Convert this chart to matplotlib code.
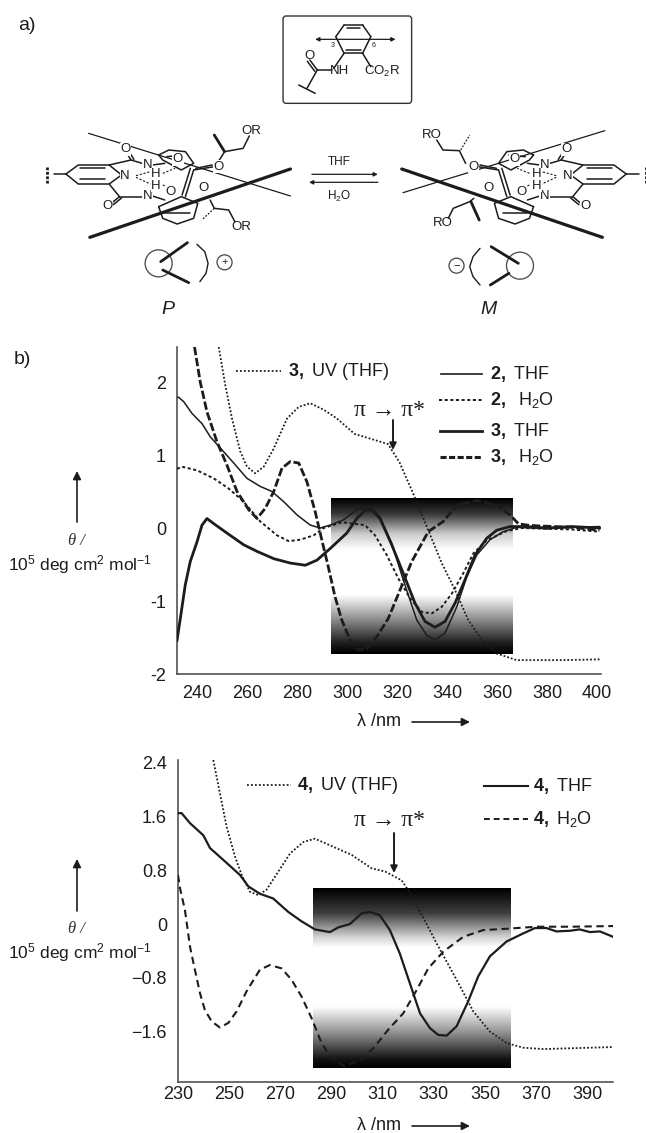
import numpy as np
import matplotlib
matplotlib.use('Agg')
import matplotlib.pyplot as plt
from matplotlib.patches import FancyBboxPatch, Ellipse, FancyArrowPatch

plt.rcParams['font.family'] = ['Liberation Sans', 'DejaVu Sans']
plt.rcParams['mathtext.fontset'] = 'custom'
plt.rcParams['mathtext.rm'] = 'Liberation Sans'
plt.rcParams['mathtext.it'] = 'Liberation Sans:italic'
plt.rcParams['mathtext.bf'] = 'Liberation Sans:bold'

W, H = 646, 1133
INK = '#1c1c1c'

# panel b, upper chart
b_xticks = [240, 260, 280, 300, 320, 340, 360, 380, 400]
b_yticks = [-2, -1, 0, 1, 2]
b_yticklabels = ['-2', '-1', '0', '1', '2']

thf3_x = [232, 233.5, 235.3, 237.3, 240, 242, 244, 246.7, 252, 258.7, 264, 270.7, 277.3, 283.3, 288, 293.3, 299.9,
          303.9, 307.2, 309.9, 313.2, 317.9, 322.5, 327.2, 331.2, 335.2, 339.2, 343.2, 347.2, 351.2, 355.9, 359.9,
          365.2, 372, 380, 390, 401]
thf3_y = [-1.54, -1.2, -0.78, -0.46, -0.19, 0.04, 0.13, 0.06, -0.07, -0.23, -0.32, -0.42, -0.48, -0.51, -0.44, -0.28, -0.07,
          0.13, 0.24, 0.25, 0.13, -0.23, -0.62, -1.03, -1.28, -1.36, -1.28, -1.03, -0.71, -0.37, -0.14, -0.03,
          0.02, 0.02, 0.0, 0.02, 0.0]

thf2_x = [232, 232.7, 234.7, 238, 242, 245.3, 250, 254.7, 260, 265.3, 270, 274.7, 280, 285.3, 289.3, 293.2, 298.5,
          303.9, 309.2, 313.2, 317.9, 322.5, 327.9, 331.9, 335.2, 339.2, 343.9, 347.9, 351.9, 357.2, 362.5, 367.9,
          380, 390, 401]
thf2_y = [1.79, 1.79, 1.73, 1.57, 1.43, 1.25, 1.07, 0.89, 0.68, 0.57, 0.5, 0.36, 0.18, 0.04, 0.0, 0.04, 0.11,
          0.25, 0.29, 0.15, -0.21, -0.71, -1.26, -1.47, -1.53, -1.44, -1.08, -0.67, -0.37, -0.16, -0.05, 0.01,
          -0.01, 0.01, 0.02]

h2o2_x = [232, 234, 240, 246.7, 252.7, 258.7, 265.3, 272, 276.7, 281.3, 286.7, 290.7, 298, 307.2, 311.2, 315.9,
          320.5, 325.2, 329.9, 333.9, 337.9, 341.9, 346.5, 350.5, 355.8, 364, 370, 380, 390, 401]
h2o2_y = [0.81, 0.84, 0.79, 0.68, 0.54, 0.36, 0.09, -0.1, -0.18, -0.16, -0.1, 0.0, 0.08, 0.04, -0.1, -0.37,
          -0.69, -0.96, -1.15, -1.17, -1.08, -0.9, -0.62, -0.35, -0.17, -0.04, 0.0, -0.01, -0.02, -0.05]

h2o3_x = [239, 241.3, 244, 248, 252, 256, 260.7, 264, 267.3, 270.7, 274, 277.3, 280.7, 284, 287.3, 289.9, 292.5,
          295.2, 297.9, 301.2, 304.5, 307.9, 311.9, 316.5, 321.2, 325.9, 332.5, 338.5, 343.9, 351.9, 359.9, 365.2,
          368.5, 372, 376, 390, 401]
h2o3_y = [2.48, 2.0, 1.59, 1.18, 0.86, 0.5, 0.25, 0.13, 0.27, 0.5, 0.82, 0.91, 0.89, 0.63, 0.22, -0.16, -0.53,
          -0.94, -1.26, -1.53, -1.67, -1.65, -1.49, -1.24, -0.85, -0.46, -0.05, 0.09, 0.31, 0.38, 0.31, 0.18,
          0.06, 0.04, 0.03, 0.01, -0.03]

uv3_x = [248.7, 251.3, 254, 257.3, 260, 263.3, 266.7, 270.7, 276, 280.7, 285.3, 290.7, 296, 303, 316.4, 321, 326.5,
         332.5, 337.9, 343.2, 348.5, 353.9, 359.9, 367.9, 385, 401]
uv3_y = [2.48, 1.96, 1.5, 1.05, 0.84, 0.75, 0.84, 1.09, 1.5, 1.66, 1.71, 1.62, 1.5, 1.29, 1.15, 0.9, 0.47,
         -0.03, -0.48, -0.85, -1.26, -1.53, -1.72, -1.81, -1.81, -1.8]

# panel b, lower chart
c_xticks = [230, 250, 270, 290, 310, 330, 350, 370, 390]
c_yticks = [-1.6, -0.8, 0, 0.8, 1.6, 2.4]
c_yticklabels = ['\u22121.6', '\u22120.8', '0', '0.8', '1.6', '2.4']

thf4_x = [230, 231.4, 234.7, 239.9, 242.5, 248.4, 254.2, 257.5, 262, 267.2, 273.1, 278.3, 283.5, 289.4, 292.6, 297.2,
          301.8, 305, 308.9, 312.8, 316.7, 320.6, 324.6, 328.5, 331.7, 335, 338.9, 343.4, 347.3, 351.9, 358.4,
          364.9, 369.5, 374, 377.9, 383.2, 387, 391, 394.9, 400]
thf4_y = [1.65, 1.65, 1.5, 1.32, 1.13, 0.93, 0.73, 0.56, 0.45, 0.38, 0.18, 0.04, -0.08, -0.12, -0.05, 0.0,
          0.16, 0.18, 0.13, -0.09, -0.44, -0.88, -1.33, -1.55, -1.65, -1.66, -1.52, -1.15, -0.78, -0.48, -0.26,
          -0.14, -0.06, -0.06, -0.11, -0.1, -0.08, -0.12, -0.11, -0.19]

h2o4_x = [230, 230.8, 232.7, 234.7, 236.6, 238.6, 240.5, 243.2, 246.4, 249.7, 252.9, 256.8, 262, 265.9, 270.5, 274.4,
          278.3, 282.2, 286.1, 289.4, 295, 301.1, 306.3, 312.2, 318, 323.3, 327.8, 333.7, 341.5, 349.3, 358.4, 370.1,
          383.2, 400]
h2o4_y = [0.73, 0.53, 0.21, -0.34, -0.68, -1.03, -1.28, -1.45, -1.54, -1.47, -1.3, -1.0, -0.68, -0.61, -0.66, -0.83,
          -1.08, -1.4, -1.77, -1.97, -2.12, -2.02, -1.85, -1.57, -1.33, -0.98, -0.66, -0.41, -0.19, -0.09, -0.07, -0.04,
          -0.04, -0.03]

uv4_x = [243.8, 246.4, 249, 252.3, 254.9, 258.1, 261.4, 264.6, 269.2, 273.8, 279, 283.5, 290, 297.8, 305.6, 311,
         317.4, 320.7, 325.9, 331.1, 338.9, 345.4, 351.9, 358.4, 364.9, 372.7, 400]
uv4_y = [2.44, 1.94, 1.45, 1.0, 0.73, 0.48, 0.43, 0.51, 0.78, 1.05, 1.22, 1.27, 1.16, 1.03, 0.83, 0.78,
         0.65, 0.46, 0.09, -0.29, -0.83, -1.3, -1.6, -1.77, -1.84, -1.86, -1.83]

# grey level of the shaded boxes, top to bottom (fraction of box height, grey)
b_shade_pos = [0.0, 0.1, 0.23, 0.33, 0.62, 0.78, 0.93, 1.0]
b_shade_grey = [0.0, 0.22, 0.8, 1.0, 1.0, 0.55, 0.12, 0.0]
c_shade_pos = [0.0, 0.14, 0.27, 0.33, 0.66, 0.81, 0.95, 1.0]
c_shade_grey = [0.0, 0.25, 0.82, 1.0, 1.0, 0.55, 0.08, 0.0]

# scheme a), in reference zoom units, left helix (right one is mirrored)
ring_pyr = [(160, 522), (190, 495), (265, 495), (295, 525), (265, 552), (190, 552), (160, 522)]
ring_top = [(385, 465), (410, 450), (450, 455), (470, 490), (440, 510), (395, 480), (385, 465)]
ring_bot = [(385, 620), (395, 655), (430, 672), (470, 655), (480, 610), (440, 590), (385, 620)]
scheme_bonds = [
    [(130, 522), (160, 522)], [(195, 505), (255, 505)], [(195, 538), (255, 538)],
    [(265, 495), (318, 480)], [(318, 480), (305, 455)], [(325, 478), (312, 453)], [(318, 480), (345, 490)],
    [(265, 552), (290, 590)], [(290, 590), (270, 610)], [(295, 594), (275, 614)], [(290, 590), (345, 590)],
    [(370, 588), (400, 600)], [(370, 495), (400, 490)],
    [(470, 510), (520, 500)], [(475, 505), (515, 495)], [(470, 510), (450, 590)], [(462, 505), (442, 585)],
    [(405, 470), (445, 465)], [(400, 640), (460, 640)],
]
scheme_dash = [[(330, 527), (365, 515)], [(330, 532), (365, 552)], [(395, 520), (425, 505)], [(395, 555), (415, 565)]]
scheme_labels = [('O', 305, 448), ('O', 260, 618), ('N', 303, 527), ('N', 358, 495), ('N', 358, 588), ('H', 378, 522),
                 ('H', 378, 558), ('O', 432, 478), ('O', 415, 575), ('O', 530, 500), ('O', 495, 565)]
# side chains differ between the two helices
left_chains = [[(530, 485), (545, 455), (590, 445), (605, 408)], [(510, 600), (520, 625), (555, 630), (570, 665)]]
left_bold = [[(545, 455), (520, 405)]]
left_dash = [[(520, 625), (490, 660)]]
right_chains = [[(1130, 490), (1115, 452), (1075, 450), (1060, 420)], [(1150, 595), (1140, 605), (1100, 625), (1088, 655)]]
right_bold = [[(1143, 605), (1163, 660)]]
right_dash = [[(1118, 450), (1140, 405)]]

box_bonds = [[(835, 75), (880, 75)], [(880, 75), (900, 110)], [(900, 110), (880, 160)], [(880, 160), (835, 160)],
             [(835, 160), (815, 110)], [(815, 110), (835, 75)], [(842, 85), (873, 85)], [(840, 150), (875, 150)],
             [(835, 160), (810, 205)], [(770, 210), (805, 210)], [(770, 210), (752, 180)], [(764, 214), (746, 184)],
             [(770, 210), (745, 265)], [(725, 255), (765, 280)], [(880, 160), (900, 200)]]


def pax(left, top, right, bottom):
    return [left / W, 1 - bottom / H, (right - left) / W, (bottom - top) / H]


def zp(x, y):
    return x / 2.427, y / 3.0


def zline(pts, lw=1.0, ls='-', color=INK, mirror=False):
    xs = [(1680 - p[0] if mirror else p[0]) / 2.427 for p in pts]
    ys = [p[1] / 3.0 for p in pts]
    over.plot(xs, ys, color=color, lw=lw, ls=ls, solid_capstyle='round')


def arrow(x0, y0, x1, y1, lw=1.2, ms=10):
    over.add_patch(FancyArrowPatch((x0, y0), (x1, y1), arrowstyle='-|>', mutation_scale=ms,
                                   lw=lw, color=INK, shrinkA=0, shrinkB=0))


fig = plt.figure(figsize=(W / 100, H / 100), dpi=100)


def chart(pos, xlim, ylim, xticks, yticks, yticklabels, rect, pos_stops, grey_stops, xpad):
    ax = fig.add_axes(pos)
    shade = np.interp(np.linspace(0, 1, 256), pos_stops, grey_stops).reshape(-1, 1)
    ax.imshow(shade, cmap='gray', vmin=0, vmax=1, aspect='auto', zorder=1,
              extent=[rect[0], rect[1], rect[2], rect[3]], origin='upper', interpolation='bilinear')
    ax.set_xlim(xlim)
    ax.set_ylim(ylim)
    ax.set_xticks(xticks)
    ax.set_yticks(yticks)
    ax.set_yticklabels(yticklabels)
    ax.tick_params(length=0, labelsize=13, colors=INK)
    ax.tick_params(axis='y', pad=8)
    ax.tick_params(axis='x', pad=xpad)
    ax.patch.set_alpha(0)
    for s in ['top', 'right']:
        ax.spines[s].set_visible(False)
    for s in ['left', 'bottom']:
        ax.spines[s].set_color('#444444')
        ax.spines[s].set_linewidth(1.1)
    return ax


ax1 = chart(pax(177, 347, 601, 674), (232, 401.6), (-2, 2.48), b_xticks, b_yticks, b_yticklabels,
            (293.4, 366, -1.73, 0.40), b_shade_pos, b_shade_grey, 8)
ax1.plot(uv3_x, uv3_y, color=INK, lw=1.3, ls=(0, (1, 1.1)), zorder=3)
ax1.plot(thf2_x, thf2_y, color=INK, lw=1.1, zorder=3)
ax1.plot(h2o2_x, h2o2_y, color=INK, lw=1.4, ls=(0, (1.6, 1.3)), zorder=3)
ax1.plot(thf3_x, thf3_y, color=INK, lw=2.0, zorder=4)
ax1.plot(h2o3_x, h2o3_y, color=INK, lw=2.0, ls=(0, (3, 1)), zorder=4)

ax2 = chart(pax(178, 760, 613, 1082), (230, 400), (-2.35, 2.44), c_xticks, c_yticks, c_yticklabels,
            (282.7, 359.7, -2.14, 0.535), c_shade_pos, c_shade_grey, 3)
ax2.plot(uv4_x, uv4_y, color=INK, lw=1.3, ls=(0, (1, 1.1)), zorder=3)
ax2.plot(thf4_x, thf4_y, color=INK, lw=1.6, zorder=4)
ax2.plot(h2o4_x, h2o4_y, color=INK, lw=1.5, ls=(0, (3.5, 2.2)), zorder=4)

# overlay in pixel coordinates for the scheme, legends and axis captions
over = fig.add_axes([0, 0, 1, 1])
over.set_xlim(0, W)
over.set_ylim(H, 0)
over.axis('off')
over.patch.set_alpha(0)

over.text(18, 25, 'a)', fontsize=14, color=INK, va='center')
over.text(14, 360, 'b)', fontsize=14, color=INK, va='center')

x0, y0 = zp(687, 48)
x1, y1 = zp(999, 310)
over.add_patch(FancyBboxPatch((x0 + 3, y0 + 3), x1 - x0 - 6, y1 - y0 - 6, boxstyle='round,pad=3',
                              fc='white', ec='#333333', lw=1.0))
for seg in box_bonds:
    zline(seg, lw=1.1)
over.annotate('', xy=zp(765, 118), xytext=zp(960, 118), arrowprops=dict(arrowstyle='<|-|>', color=INK, lw=0.9, shrinkA=0, shrinkB=0, mutation_scale=6))
over.text(*zp(752, 167), 'O', fontsize=9.5, ha='center', va='center', color=INK)
over.text(*zp(825, 213), 'NH', fontsize=9.5, ha='center', va='center', color=INK)
over.text(*zp(928, 215), 'CO$_2$R', fontsize=9.5, ha='center', va='center', color=INK)
over.text(*zp(807, 137), '3', fontsize=5, ha='center', va='center', color=INK)
over.text(*zp(906, 137), '6', fontsize=5, ha='center', va='center', color=INK)

for mirror in [False, True]:
    for pts in [ring_pyr, ring_top, ring_bot] + scheme_bonds:
        zline(pts, lw=1.1, mirror=mirror)
    for pts in scheme_dash:
        zline(pts, lw=0.8, ls=(0, (2, 1.5)), mirror=mirror)
    zline([(113, 500), (113, 548)], lw=2.0, ls=(0, (1, 0.6)), mirror=mirror)

for pts in left_chains + right_chains:
    zline(pts, lw=1.1)
for pts in left_bold + right_bold:
    zline(pts, lw=2.0)
for pts in left_dash + right_dash:
    zline(pts, lw=0.9, ls=(0, (1.5, 1.2)))

zline([(215, 400), (705, 588)], lw=0.9)
zline([(218, 712), (705, 507)], lw=2.3)
zline([(1468, 392), (978, 578)], lw=0.9)
zline([(1462, 712), (975, 507)], lw=2.3)

for mirror in [False, True]:
    for txt, x, y in scheme_labels:
        over.text(*zp(1680 - x if mirror else x, y), txt, fontsize=9.5, ha='center', va='center', color=INK,
                  bbox=dict(fc='white', ec='none', pad=0.3))
over.text(*zp(610, 393), 'OR', fontsize=9.5, ha='center', va='center', color=INK)
over.text(*zp(585, 680), 'OR', fontsize=9.5, ha='center', va='center', color=INK)
over.text(*zp(1047, 406), 'RO', fontsize=9.5, ha='center', va='center', color=INK)
over.text(*zp(1075, 670), 'RO', fontsize=9.5, ha='center', va='center', color=INK)

over.text(*zp(823, 485), 'THF', fontsize=8.5, ha='center', va='center', color=INK)
over.text(*zp(823, 590), 'H$_2$O', fontsize=8.5, ha='center', va='center', color=INK)
arrow(*zp(757, 523), *zp(917, 523), lw=0.9, ms=6)
arrow(*zp(917, 547), *zp(750, 547), lw=0.9, ms=6)

# helicity symbols
over.add_patch(Ellipse(zp(385, 790), 27, 27, fc='none', ec='#555555', lw=1.0))
zline([(390, 785), (455, 728)], lw=2.0)
zline([(395, 810), (458, 848)], lw=2.0)
zline([(478, 733), (497, 755), (505, 790), (500, 820), (485, 845)], lw=1.0)
over.add_patch(Ellipse(zp(545, 787), 15, 15, fc='none', ec='#444444', lw=0.9))
over.text(*zp(545, 787), '+', fontsize=8, ha='center', va='center', color=INK)
over.add_patch(Ellipse(zp(1262, 797), 27, 27, fc='none', ec='#555555', lw=1.0))
zline([(1258, 790), (1192, 740)], lw=2.0)
zline([(1235, 820), (1190, 855)], lw=2.0)
zline([(1165, 745), (1148, 770), (1140, 800), (1148, 830), (1165, 855)], lw=1.0)
over.add_patch(Ellipse(zp(1108, 797), 15, 15, fc='none', ec='#444444', lw=0.9))
over.text(*zp(1108, 797), '\u2212', fontsize=8, ha='center', va='center', color=INK)
over.text(*zp(407, 928), 'P', fontsize=14, style='italic', ha='center', va='center', color=INK)
over.text(*zp(1185, 930), 'M', fontsize=14, style='italic', ha='center', va='center', color=INK)

# captions of the upper chart
arrow(77, 522, 77, 471, lw=1.2, ms=12)
over.text(76, 541, '\u03b8 /', fontsize=12, style='italic', ha='center', va='center', color='#333333', family='Liberation Serif')
over.text(80, 565, '10$^5$ deg cm$^2$ mol$^{-1}$', fontsize=12.5, ha='center', va='center', color=INK)
over.text(379, 722, '\u03bb /nm', fontsize=13, ha='center', va='center', color=INK)
arrow(412, 722, 470, 722, lw=1.2, ms=12)
over.text(389, 410, '\u03c0 \u2192 \u03c0*', fontsize=17, ha='center', va='center', color=INK, family='Liberation Serif')
arrow(393, 420, 393, 450, lw=1.4, ms=10)

top_leg = [
    (236, 281, 371, (0, (1, 1.2)), 1.3, '$\\mathbf{3,}$ UV (THF)', 288),
    (441, 482, 374, '-', 1.2, '$\\mathbf{2,}$ THF', 490),
    (439, 482, 400, (0, (1.6, 1.3)), 1.4, '$\\mathbf{2,}$  H$_2$O', 490),
    (440, 482, 431, '-', 2.0, '$\\mathbf{3,}$ THF', 490),
    (440, 482, 457, (0, (2, 0.8)), 2.2, '$\\mathbf{3,}$  H$_2$O', 490),
]
for xa, xb, y, ls, lw, label, tx in top_leg:
    over.plot([xa, xb], [y, y], color=INK, lw=lw, ls=ls)
    over.text(tx, y, label, fontsize=13, va='center', color=INK)

# captions of the lower chart
arrow(77, 911, 77, 859, lw=1.2, ms=12)
over.text(76, 929, '\u03b8 /', fontsize=12, style='italic', ha='center', va='center', color='#333333', family='Liberation Serif')
over.text(80, 953, '10$^5$ deg cm$^2$ mol$^{-1}$', fontsize=12.5, ha='center', va='center', color=INK)
over.text(379, 1126, '\u03bb /nm', fontsize=13, ha='center', va='center', color=INK)
arrow(412, 1126, 470, 1126, lw=1.2, ms=12)
over.text(389, 820, '\u03c0 \u2192 \u03c0*', fontsize=17, ha='center', va='center', color=INK, family='Liberation Serif')
arrow(394, 833, 394, 873, lw=1.4, ms=10)

low_leg = [
    (247, 291, 785, (0, (1, 1.2)), 1.3, '$\\mathbf{4,}$ UV (THF)', 297),
    (484, 528, 786, '-', 1.5, '$\\mathbf{4,}$ THF', 533),
    (484, 528, 819, (0, (3, 2)), 1.4, '$\\mathbf{4,}$ H$_2$O', 533),
]
for xa, xb, y, ls, lw, label, tx in low_leg:
    over.plot([xa, xb], [y, y], color=INK, lw=lw, ls=ls)
    over.text(tx, y, label, fontsize=13, va='center', color=INK)

over.set_xlim(0, W)
over.set_ylim(H, 0)
fig.savefig('out.png', dpi=100)
